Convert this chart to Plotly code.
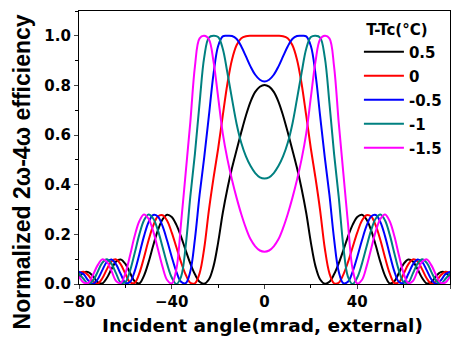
import plotly.graph_objects as go

angle = [-80, -78, -76, -74, -72, -70, -68, -66, -64, -62, -60, -58, -56, -54, -52, -50, -48, -46, -44, -42,
         -40, -38, -36, -34, -32, -30, -28, -26, -24, -22, -20, -18, -16, -14, -12, -10, -8, -6, -4, -2,
         0, 2, 4, 6, 8, 10, 12, 14, 16, 18, 20, 22, 24, 26, 28, 30, 32, 34, 36, 38,
         40, 42, 44, 46, 48, 50, 52, 54, 56, 58, 60, 62, 64, 66, 68, 70, 72, 74, 76, 78, 80]

eff_p05 = [0.027, 0.046, 0.048, 0.032, 0.008, 0.002, 0.024, 0.060, 0.091, 0.099, 0.081, 0.045, 0.011, 0.002,
           0.033, 0.088, 0.155, 0.216, 0.260, 0.279, 0.270, 0.238, 0.191, 0.136, 0.083, 0.039, 0.009, 0.001,
           0.018, 0.071, 0.167, 0.286, 0.384, 0.468, 0.541, 0.612, 0.679, 0.735, 0.774, 0.795,
           0.802,
           0.795, 0.774, 0.735, 0.679, 0.612, 0.541, 0.468, 0.384, 0.286, 0.167, 0.071, 0.018, 0.001, 0.009,
           0.039, 0.083, 0.136, 0.191, 0.238, 0.270, 0.279, 0.260, 0.216, 0.155, 0.088, 0.033, 0.002, 0.011,
           0.045, 0.081, 0.099, 0.091, 0.060, 0.024, 0.002, 0.008, 0.032, 0.048, 0.046, 0.027]

eff_0 = [0.043, 0.049, 0.035, 0.011, 0.001, 0.022, 0.059, 0.091, 0.099, 0.079, 0.041, 0.007, 0.005, 0.043,
         0.106, 0.176, 0.235, 0.272, 0.277, 0.255, 0.207, 0.148, 0.088, 0.038, 0.005, 0.003, 0.043, 0.144,
         0.296, 0.427, 0.545, 0.678, 0.807, 0.905, 0.963, 0.990, 0.998, 1.000, 1.000, 1.000,
         1.000,
         1.000, 1.000, 1.000, 0.998, 0.990, 0.963, 0.905, 0.807, 0.678, 0.545, 0.427, 0.296, 0.144, 0.043,
         0.003, 0.005, 0.038, 0.088, 0.148, 0.207, 0.255, 0.277, 0.272, 0.235, 0.176, 0.106, 0.043, 0.005,
         0.007, 0.041, 0.079, 0.099, 0.091, 0.059, 0.022, 0.001, 0.011, 0.035, 0.049, 0.043]

eff_m05 = [0.050, 0.039, 0.014, 0.000, 0.018, 0.055, 0.089, 0.099, 0.079, 0.040, 0.005, 0.008, 0.051, 0.119,
           0.192, 0.249, 0.278, 0.272, 0.234, 0.175, 0.109, 0.049, 0.009, 0.003, 0.050, 0.182, 0.359, 0.510,
           0.676, 0.846, 0.959, 0.998, 1.000, 0.999, 0.987, 0.957, 0.917, 0.876, 0.843, 0.823,
           0.816,
           0.823, 0.843, 0.876, 0.917, 0.957, 0.987, 0.999, 1.000, 0.998, 0.959, 0.846, 0.676, 0.510, 0.359,
           0.182, 0.050, 0.003, 0.009, 0.049, 0.109, 0.175, 0.234, 0.272, 0.278, 0.249, 0.192, 0.119, 0.051,
           0.008, 0.005, 0.040, 0.079, 0.099, 0.089, 0.055, 0.018, 0.000, 0.014, 0.039, 0.050]

eff_m1 = [0.043, 0.020, 0.001, 0.013, 0.048, 0.085, 0.100, 0.082, 0.043, 0.006, 0.008, 0.053, 0.124, 0.199,
          0.256, 0.280, 0.264, 0.217, 0.150, 0.081, 0.026, 0.000, 0.029, 0.152, 0.352, 0.525, 0.729, 0.913,
          0.993, 1.000, 0.995, 0.948, 0.851, 0.745, 0.644, 0.568, 0.514, 0.475, 0.447, 0.430,
          0.425,
          0.430, 0.447, 0.475, 0.514, 0.568, 0.644, 0.745, 0.851, 0.948, 0.995, 1.000, 0.993, 0.913, 0.729,
          0.525, 0.352, 0.152, 0.029, 0.000, 0.026, 0.081, 0.150, 0.217, 0.264, 0.280, 0.256, 0.199, 0.124,
          0.053, 0.008, 0.006, 0.043, 0.082, 0.100, 0.085, 0.048, 0.013, 0.001, 0.020, 0.043]

eff_m15 = [0.030, 0.006, 0.005, 0.036, 0.075, 0.099, 0.090, 0.053, 0.012, 0.004, 0.043, 0.115, 0.193, 0.253,
           0.280, 0.263, 0.213, 0.142, 0.070, 0.016, 0.002, 0.060, 0.244, 0.447, 0.651, 0.877, 0.990, 1.000,
           0.986, 0.897, 0.753, 0.607, 0.503, 0.419, 0.346, 0.281, 0.225, 0.180, 0.152, 0.135,
           0.130,
           0.135, 0.152, 0.180, 0.225, 0.281, 0.346, 0.419, 0.503, 0.607, 0.753, 0.897, 0.986, 1.000, 0.990,
           0.877, 0.651, 0.447, 0.244, 0.060, 0.002, 0.016, 0.070, 0.142, 0.213, 0.263, 0.280, 0.253, 0.193,
           0.115, 0.043, 0.004, 0.012, 0.053, 0.090, 0.099, 0.075, 0.036, 0.005, 0.006, 0.030]

series_names = ["0.5", "0", "-0.5", "-1", "-1.5"]
series_values = [eff_p05, eff_0, eff_m05, eff_m1, eff_m15]
series_colors = ["#000000", "#FF0000", "#0000FF", "#008080", "#FF00FF"]

x_ticks = [-80, -40, 0, 40, 80]
y_ticks = [0.0, 0.2, 0.4, 0.6, 0.8, 1.0]

fig = go.Figure()
for i, (name, vals, col) in enumerate(zip(series_names, series_values, series_colors)):
    fig.add_trace(go.Scatter(
        x=angle, y=vals, mode="lines", name=name,
        line=dict(color=col, width=2, shape="spline", smoothing=1.0),
        legendgroup=f"g{i}",
    ))

tick_font = dict(family="DejaVu Sans", size=15, color="black", weight="bold")

fig.update_layout(
    width=458, height=338,
    margin=dict(l=79, r=8, t=11, b=54),
    paper_bgcolor="white", plot_bgcolor="white",
    showlegend=True,
    legend=dict(
        x=0.7545, y=0.982, xanchor="left", yanchor="top",
        bgcolor="rgba(0,0,0,0)",
        itemwidth=40,
        font=dict(family="DejaVu Sans", size=15, color="black", weight="bold"),
        title=dict(text="\u00a0T-Tc(°C)", font=dict(family="DejaVu Sans", size=15, color="black", weight="bold")),
        tracegroupgap=1.5,
    ),
    xaxis=dict(
        range=[-80, 80], tickvals=x_ticks, ticks="outside", ticklen=4, tickwidth=1.3,
        showline=True, linecolor="black", linewidth=1.3, mirror=True, showgrid=False, zeroline=False,
        tickfont=tick_font,
        minor=dict(dtick=20, ticks="outside", ticklen=2.5, tickwidth=1.2, tickcolor="black"),
    ),
    yaxis=dict(
        range=[0, 1.1], tickvals=y_ticks, tickformat=".1f", ticks="outside", ticklen=4, tickwidth=1.3,
        showline=True, linecolor="black", linewidth=1.3, mirror=True, showgrid=False, zeroline=False,
        tickfont=tick_font,
        minor=dict(dtick=0.1, ticks="outside", ticklen=2.5, tickwidth=1.2, tickcolor="black"),
    ),
    annotations=[
        dict(text="Incident angle(mrad, external)", xref="paper", yref="paper",
             x=0.4946, y=-0.152, xanchor="center", yanchor="middle", showarrow=False,
             font=dict(family="DejaVu Sans", size=18.5, color="black", weight="bold")),
        dict(text="Normalized 2ω-4ω efficiency", xref="paper", yref="paper",
             x=-0.154, y=0.412, xanchor="center", yanchor="middle", showarrow=False, textangle=-90,
             font=dict(family="Liberation Sans", size=23, color="black", weight="bold")),
    ],
)

fig.write_html("out.html")
